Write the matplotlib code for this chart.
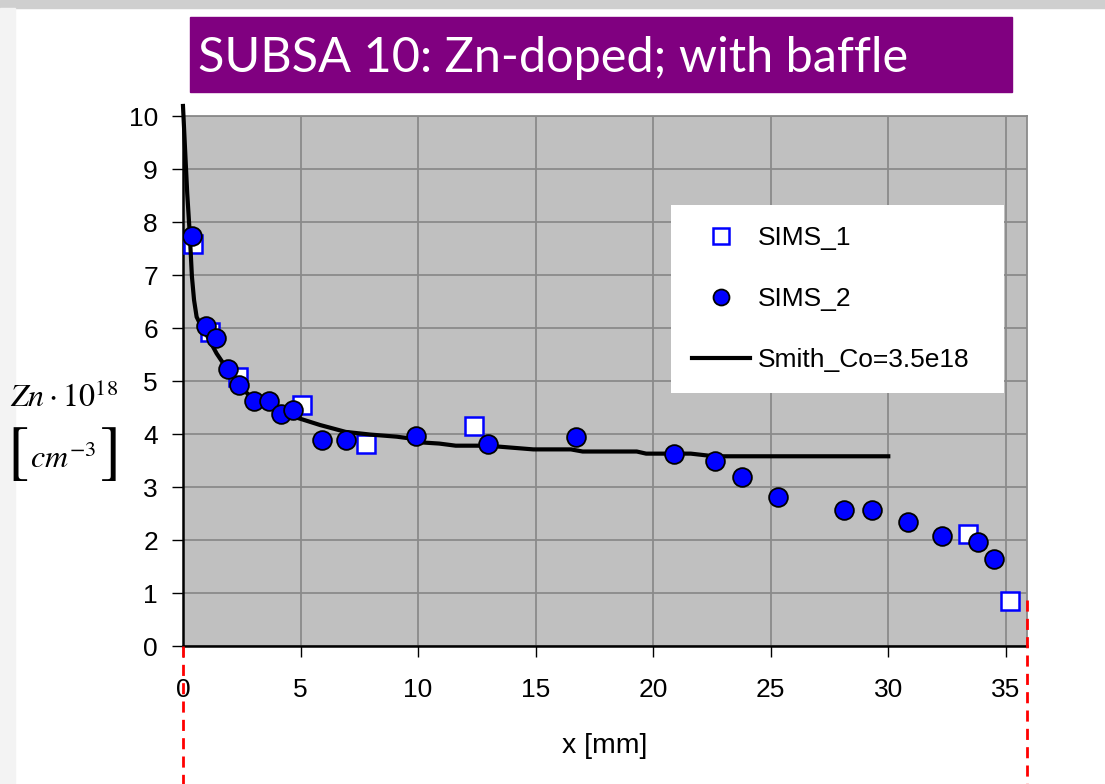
import matplotlib
matplotlib.use('Agg')
import matplotlib.pyplot as plt
from matplotlib.patches import Rectangle
import matplotlib.transforms as mtransforms

plt.rcParams['font.family'] = ['Liberation Sans', 'DejaVu Sans']
plt.rcParams['mathtext.fontset'] = 'stix'

# SIMS_1 (open squares)
sims1_x = [0.44, 1.15, 2.35, 5.06, 7.77, 12.37, 33.39, 35.18]
sims1_y = [7.58, 5.93, 5.08, 4.54, 3.81, 4.15, 2.11, 0.84]

# SIMS_2 (filled circles)
sims2_x = [0.37, 0.97, 1.39, 1.90, 2.40, 3.01, 3.67, 4.18, 4.69, 5.90, 6.92,
           9.90, 12.97, 16.70, 20.88, 22.65, 23.77, 25.31, 28.11, 29.31,
           30.82, 32.28, 33.82, 34.50]
sims2_y = [7.74, 6.04, 5.81, 5.23, 4.92, 4.62, 4.62, 4.38, 4.46, 3.89, 3.89,
           3.97, 3.81, 3.95, 3.62, 3.50, 3.19, 2.82, 2.57, 2.57,
           2.34, 2.07, 1.96, 1.65]

# Smith model curve, Co = 3.5e18
smith_x = [0.0, 0.09, 0.18, 0.27, 0.33, 0.38, 0.47, 0.58, 0.79, 0.97, 1.43,
           1.90, 2.40, 3.01, 3.70, 4.69, 5.83, 6.92, 7.96, 9.09, 9.60, 10.20,
           10.90, 11.60, 12.90, 13.50, 14.90, 16.50, 17.00, 19.30, 19.70,
           21.60, 22.60, 30.00]
smith_y = [10.19, 9.36, 8.54, 7.91, 7.41, 6.97, 6.53, 6.21, 6.02, 5.90, 5.52,
           5.21, 4.92, 4.64, 4.53, 4.33, 4.17, 4.04, 3.99, 3.95, 3.92, 3.84,
           3.82, 3.78, 3.78, 3.76, 3.71, 3.71, 3.67, 3.67, 3.63,
           3.63, 3.58, 3.58]

x_max = 35.9

fig = plt.figure(figsize=(11.05, 7.84), dpi=100)

# slide decoration
fig.patches.append(Rectangle((0, 1 - 8 / 784), 1, 8 / 784, transform=fig.transFigure,
                             color='#cfcfcf', zorder=0))
fig.patches.append(Rectangle((0, 0), 15 / 1105, 1 - 8 / 784, transform=fig.transFigure,
                             color='#f3f3f3', zorder=0))

# title box
fig.patches.append(Rectangle((0.172, 0.8827), 0.744, 0.0956, transform=fig.transFigure,
                             color='#800080', zorder=1))
fig.text(0.179, 0.926, 'SUBSA 10: Zn-doped; with baffle', color='white',
         fontsize=35, family=['Lato', 'DejaVu Sans'], va='center', ha='left', zorder=2)

ax = fig.add_axes([0.1656, 0.176, 0.7638, 0.676])
ax.set_facecolor('#c0c0c0')
ax.set_axisbelow(True)
ax.grid(True, color='#8a8a8a', lw=1.3)

ax.plot(sims1_x, sims1_y, ls='none', marker='s', ms=13, mfc='white', mec='#0000ff',
        mew=1.8, label='SIMS_1', zorder=3)
ax.plot(smith_x, smith_y, color='black', lw=3, label='Smith_Co=3.5e18', zorder=4,
        clip_on=False)
ax.plot(sims2_x, sims2_y, ls='none', marker='o', ms=13.5, mfc='#0000ff', mec='black',
        mew=1.3, label='SIMS_2', zorder=5)

ax.set_xlim(0, x_max)
ax.set_ylim(0, 10)
ax.set_xticks(range(0, 36, 5))
ax.set_yticks(range(0, 11))
ax.tick_params(axis='y', direction='out', length=8, width=1, pad=10, labelsize=19)
ax.tick_params(axis='x', direction='out', length=8, width=1, pad=15, labelsize=19)
ax.set_xlabel('x [mm]', fontsize=20.5, labelpad=22)

for s in ['left', 'bottom']:
    ax.spines[s].set_color('black')
    ax.spines[s].set_linewidth(1.8)
for s in ['top', 'right']:
    ax.spines[s].set_color('#8a8a8a')
    ax.spines[s].set_linewidth(1.3)

# y label (two lines, big thin brackets on the second)
fig.text(0.058, 0.492, r'$Zn\cdot10^{18}$', fontsize=23, ha='center', va='center')
fig.text(0.057, 0.414, r'$cm^{-3}$', fontsize=23, ha='center', va='center')
fig.text(0.016, 0.419, '[', fontsize=46, family='STIXGeneral', ha='center', va='center')
fig.text(0.100, 0.419, ']', fontsize=46, family='STIXGeneral', ha='center', va='center')

handles, labels = ax.get_legend_handles_labels()
order = [0, 2, 1]
leg = ax.legend([handles[i] for i in order], [labels[i] for i in order],
                loc='upper left', bbox_to_anchor=(0.578, 0.479, 0.395, 0.353),
                mode='expand', borderaxespad=0, fontsize=19, markerscale=0.85,
                labelspacing=1.4, borderpad=0.8, handlelength=2.2,
                handletextpad=0.3, fancybox=False, framealpha=1, edgecolor='white')
leg.get_frame().set_linewidth(0)
leg._legend_box.align = 'left'

# red dashed guide lines at the slide edges of the axis
trans = mtransforms.blended_transform_factory(ax.transData, ax.transAxes)
ax.plot([0, 0], [0, -0.27], transform=trans, color='red', lw=2, ls=(0, (4, 2.6)),
        clip_on=False, zorder=6)
ax.plot([x_max, x_max], [0.087, -0.27], transform=trans, color='red', lw=2,
        ls=(0, (4, 2.6)), clip_on=False, zorder=6)

plt.savefig('out.png', dpi=100)
